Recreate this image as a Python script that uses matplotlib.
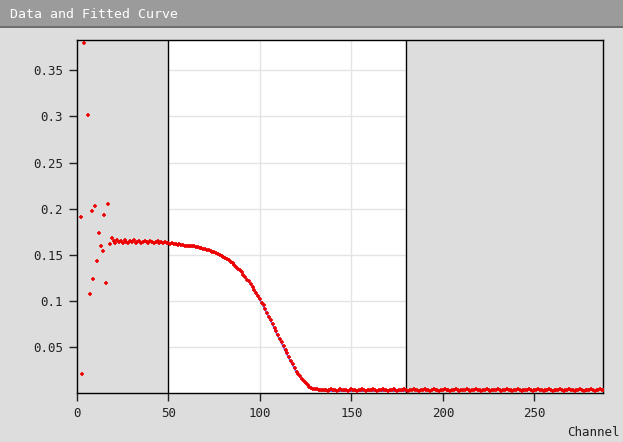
import numpy as np
import matplotlib
matplotlib.use("Agg")
import matplotlib.pyplot as plt
from matplotlib.patches import Rectangle
from matplotlib.ticker import FormatStrFormatter

# measured data, channel 1..288
noisy_start = [0.52, 0.191, 0.021, 0.380, 0.46, 0.302, 0.107, 0.197, 0.124, 0.203,
               0.143, 0.174, 0.159, 0.154, 0.193, 0.119, 0.205, 0.162, 0.168]
plateau = [0.165, 0.163, 0.166, 0.164, 0.165, 0.163, 0.166, 0.164, 0.163, 0.165,
           0.164, 0.166, 0.163, 0.164, 0.165, 0.163, 0.164, 0.165, 0.164, 0.163,
           0.165, 0.164, 0.163, 0.164, 0.165, 0.163, 0.164, 0.163, 0.164, 0.163]
edge = [0.163, 0.162, 0.163, 0.162, 0.162, 0.161, 0.162, 0.161, 0.161, 0.160,
        0.160, 0.160, 0.159, 0.159, 0.159, 0.158, 0.158, 0.157, 0.157, 0.156,
        0.156, 0.155, 0.155, 0.154, 0.153, 0.153, 0.152, 0.151, 0.150, 0.149,
        0.148, 0.146, 0.145, 0.144, 0.142, 0.141, 0.139, 0.137, 0.135, 0.133,
        0.131, 0.128, 0.126, 0.123, 0.121, 0.118, 0.115, 0.112, 0.109, 0.105,
        0.102, 0.098, 0.095, 0.091, 0.087, 0.083, 0.079, 0.075, 0.071, 0.067,
        0.063, 0.059, 0.055, 0.051, 0.047, 0.043, 0.039, 0.035, 0.031, 0.027,
        0.023, 0.021, 0.018, 0.015, 0.013, 0.011, 0.009, 0.006, 0.005, 0.004,
        0.004, 0.004, 0.003, 0.003, 0.003, 0.003]
tail = [0.003, 0.002, 0.003, 0.004, 0.003, 0.003, 0.002, 0.003, 0.004, 0.003,
        0.003, 0.003, 0.002, 0.003, 0.004, 0.003, 0.003, 0.002, 0.003, 0.003,
        0.004, 0.003, 0.002, 0.003, 0.003, 0.003, 0.004, 0.003, 0.002, 0.003,
        0.003, 0.004, 0.003, 0.003, 0.002, 0.003, 0.003, 0.004, 0.003, 0.002,
        0.003, 0.003, 0.003, 0.004, 0.003, 0.002, 0.003, 0.003, 0.004, 0.003,
        0.003, 0.002, 0.003, 0.003, 0.004, 0.003, 0.003, 0.002, 0.003, 0.004,
        0.003, 0.003, 0.002, 0.003, 0.003, 0.004, 0.003, 0.003, 0.002, 0.003,
        0.003, 0.004, 0.003, 0.002, 0.003, 0.003, 0.003, 0.004, 0.003, 0.002,
        0.003, 0.003, 0.004, 0.003, 0.003, 0.002, 0.003, 0.003, 0.004, 0.003,
        0.002, 0.003, 0.003, 0.003, 0.004, 0.003, 0.002, 0.003, 0.003, 0.004,
        0.003, 0.003, 0.002, 0.003, 0.003, 0.004, 0.003, 0.002, 0.003, 0.003,
        0.003, 0.004, 0.003, 0.002, 0.003, 0.003, 0.004, 0.003, 0.003, 0.002,
        0.003, 0.003, 0.004, 0.003, 0.002, 0.003, 0.003, 0.003, 0.004, 0.003,
        0.002, 0.003, 0.003, 0.004, 0.003, 0.003, 0.002, 0.003, 0.003, 0.004,
        0.003, 0.002, 0.003, 0.003, 0.003, 0.004, 0.003, 0.002, 0.003, 0.003,
        0.004, 0.003, 0.003]
data = noisy_start + plateau + edge + tail
channels = np.arange(1, len(data) + 1)

# fitted curve over fit window
fit_x = [50, 55, 60, 65, 70, 75, 80, 85, 90, 95, 100, 105, 110, 115, 120,
         125, 130, 135, 140, 150, 160, 170, 180]
fit_y = [0.162, 0.161, 0.160, 0.158, 0.156, 0.153, 0.148, 0.141, 0.131, 0.118,
         0.101, 0.082, 0.061, 0.041, 0.022, 0.010, 0.004, 0.002, 0.002, 0.002,
         0.002, 0.002, 0.002]
fit_lo, fit_hi = 50, 180

bg = '#dddddd'
fig = plt.figure(figsize=(6.23, 4.42), dpi=100, facecolor=bg)
# title bar
fig.patches.append(Rectangle((0, 1 - 26/442), 1, 26/442, transform=fig.transFigure,
                             facecolor='#9b9b9b', edgecolor='none'))
fig.patches.append(Rectangle((0, 1 - 28/442), 1, 2/442, transform=fig.transFigure,
                             facecolor='#6e6e6e', edgecolor='none'))
fig.text(10/623, 1 - 14/442, 'Data and Fitted Curve', color='white',
         family='DejaVu Sans Mono', fontsize=9.5, va='center')

ax = fig.add_axes([77/623, 1 - 393/442, 526/623, 353/442])
ax.set_facecolor(bg)
ax.axvspan(fit_lo, fit_hi, color='white', zorder=0)
for y in np.arange(0.05, 0.36, 0.05):
    ax.hlines(y, fit_lo, fit_hi, color='#e4e4e4', lw=1, zorder=1)
for x in [100, 150]:
    ax.axvline(x, color='#e4e4e4', lw=1, zorder=1)
ax.axvline(fit_lo, color='black', lw=1, zorder=2)
ax.axvline(fit_hi, color='black', lw=1, zorder=2)

ax.plot(fit_x, fit_y, color='#6666ff', lw=1.2, zorder=3)
ax.plot(channels, data, linestyle='none', marker='+', ms=3.5, mew=1.2,
        color='#ee0000', zorder=4)

ax.set_xlim(0, 287.5)
ax.set_ylim(0, 0.383)
ax.set_xticks([0, 50, 100, 150, 200, 250])
ax.set_yticks([0.05, 0.1, 0.15, 0.2, 0.25, 0.3, 0.35])
ax.yaxis.set_major_formatter(FormatStrFormatter('%g'))
ax.tick_params(direction='out', length=6, width=1, color='#222222',
               labelsize=9, labelcolor='#222222', pad=4)
for lab in ax.get_xticklabels() + ax.get_yticklabels():
    lab.set_family('DejaVu Sans Mono')
for s in ax.spines.values():
    s.set_color('black')
    s.set_linewidth(1)

fig.text(620/623, 1 - 433/442, 'Channel', ha='right', va='center',
         family='DejaVu Sans Mono', fontsize=9, color='#222222')

fig.savefig('out.png', dpi=100, facecolor=bg)
